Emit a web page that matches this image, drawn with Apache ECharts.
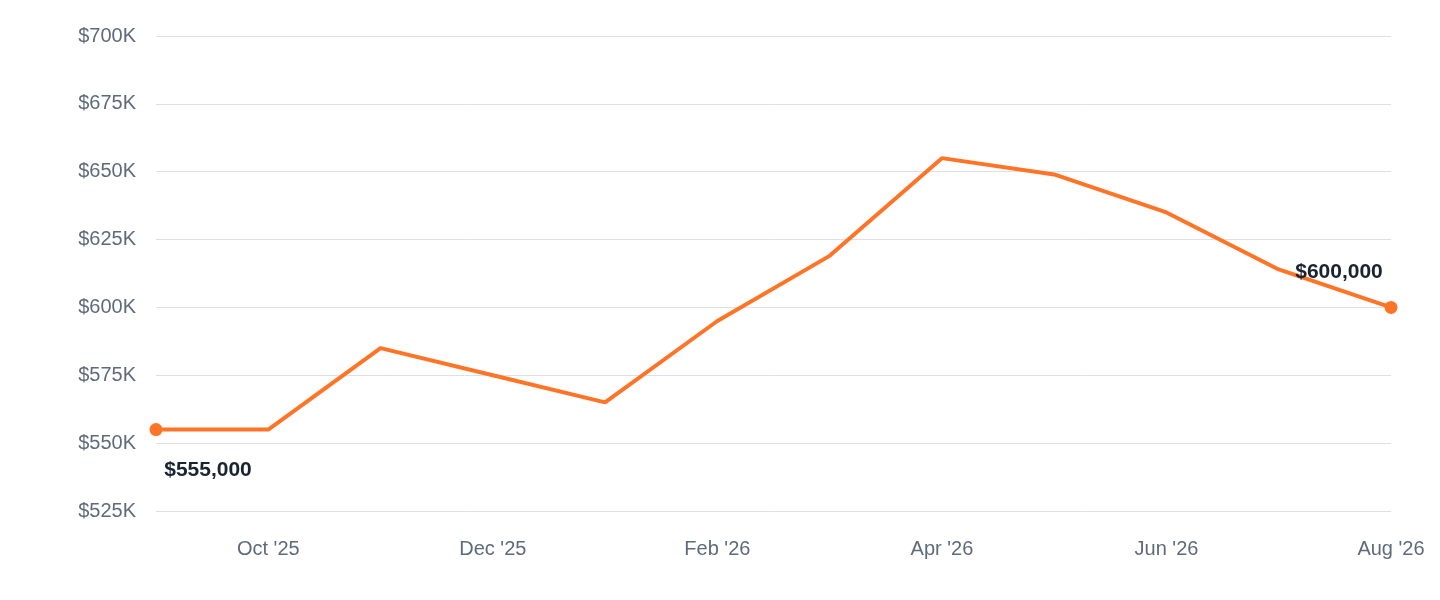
<!DOCTYPE html>
<html><head><meta charset="utf-8">
<script src="https://cdn.jsdelivr.net/npm/echarts@6/dist/echarts.min.js"></script>
<style>html,body{margin:0;padding:0;background:#fff}#c{width:1440px;height:600px}</style>
</head><body><div id="c"></div>
<script>
const months = ["Sep '25","Oct '25","Nov '25","Dec '25","Jan '26","Feb '26","Mar '26","Apr '26","May '26","Jun '26","Jul '26","Aug '26"];
const values = [555000,555000,585000,575000,565000,595000,619000,655000,649000,635000,614000,600000];
const yTicks = {min:525000,max:700000,interval:25000};
const color = '#ff7426';
const last = values.length-1;
const data = values.map((v,i)=>{
  if(i===0) return {value:v,symbol:'circle',symbolSize:13,label:{show:true,position:'bottom',offset:[52,19]}};
  if(i===last) return {value:v,symbol:'circle',symbolSize:13,label:{show:true,position:'top',offset:[-52,-13]}};
  return {value:v,symbol:'none'};
});
const chart = echarts.init(document.getElementById('c'));
chart.setOption({
  animation:false,
  grid:{left:156,right:49,top:36,bottom:89,containLabel:false},
  xAxis:{type:'category',data:months,boundaryGap:false,
    axisLine:{show:false},axisTick:{show:false},
    axisLabel:{interval:(i)=>i%2===1,color:'#5f6b7a',fontSize:20,margin:28,fontFamily:'Liberation Sans, Arial'}},
  yAxis:{type:'value',min:yTicks.min,max:yTicks.max,interval:yTicks.interval,
    axisLine:{show:false},axisTick:{show:false},
    splitLine:{lineStyle:{color:'#dde1e7',width:1}},
    axisLabel:{color:'#5f6b7a',fontSize:20,margin:20,fontFamily:'Liberation Sans, Arial',
      formatter:(v)=>'$'+(v/1000)+'K'}},
  series:[{type:'line',data:data,showSymbol:true,
    lineStyle:{color:color,width:4},itemStyle:{color:color},
    label:{color:'#1a2330',fontSize:21,fontWeight:'bold',fontFamily:'Liberation Sans, Arial',
      formatter:(p)=>'$'+p.value.toLocaleString('en-US')}}]
});
</script></body></html>
